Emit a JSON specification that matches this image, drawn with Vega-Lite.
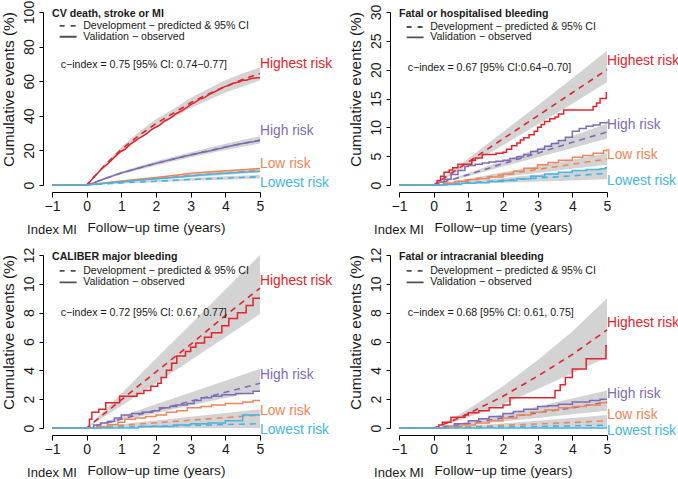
{
"$schema": "https://vega.github.io/schema/vega-lite/v6.json",
"padding": {"left": 0, "top": 0, "right": 0, "bottom": 0},
"background": "white",
"columns": 2,
"bounds": "flush",
"spacing": {"row": 70, "column": 139},
"datasets": {
"band": [
{"p":1,"g":"Highest","x":0,"y":0,"y2":0},{"p":1,"g":"Highest","x":0.5,"y":10,"y2":12},{"p":1,"g":"Highest","x":1,"y":19,"y2":22},{"p":1,"g":"Highest","x":1.5,"y":26.5,"y2":30.5},{"p":1,"g":"Highest","x":2,"y":33,"y2":38},{"p":1,"g":"Highest","x":2.5,"y":39,"y2":44},{"p":1,"g":"Highest","x":3,"y":44.5,"y2":50.5},{"p":1,"g":"Highest","x":3.5,"y":49,"y2":55.5},{"p":1,"g":"Highest","x":4,"y":53.5,"y2":60.5},{"p":1,"g":"Highest","x":4.5,"y":57,"y2":64.5},{"p":1,"g":"Highest","x":5,"y":60.5,"y2":68},
{"p":1,"g":"High","x":0,"y":0,"y2":0},{"p":1,"g":"High","x":1,"y":6.2,"y2":7.8},{"p":1,"g":"High","x":2,"y":11.3,"y2":13.7},{"p":1,"g":"High","x":3,"y":16,"y2":19},{"p":1,"g":"High","x":4,"y":20.2,"y2":23.8},{"p":1,"g":"High","x":5,"y":24,"y2":28.2},
{"p":1,"g":"Low","x":0,"y":0,"y2":0},{"p":1,"g":"Low","x":1,"y":1.5,"y2":2.5},{"p":1,"g":"Low","x":2,"y":3,"y2":4.6},{"p":1,"g":"Low","x":3,"y":4.5,"y2":6.5},{"p":1,"g":"Low","x":4,"y":5.8,"y2":8.2},{"p":1,"g":"Low","x":5,"y":7.2,"y2":9.8},
{"p":1,"g":"Lowest","x":0,"y":0,"y2":0},{"p":1,"g":"Lowest","x":1,"y":0.8,"y2":1.6},{"p":1,"g":"Lowest","x":2,"y":1.6,"y2":2.8},{"p":1,"g":"Lowest","x":3,"y":2.4,"y2":4},{"p":1,"g":"Lowest","x":4,"y":3.1,"y2":5},{"p":1,"g":"Lowest","x":5,"y":3.7,"y2":5.9},
{"p":2,"g":"Highest","x":0,"y":0,"y2":0},{"p":2,"g":"Highest","x":1,"y":3.4,"y2":4.6},{"p":2,"g":"Highest","x":2,"y":6.9,"y2":9.2},{"p":2,"g":"Highest","x":3,"y":10.5,"y2":13.8},{"p":2,"g":"Highest","x":4,"y":14.1,"y2":18.5},{"p":2,"g":"Highest","x":5,"y":17.8,"y2":23.3},
{"p":2,"g":"High","x":0,"y":0,"y2":0},{"p":2,"g":"High","x":1,"y":1.5,"y2":2.1},{"p":2,"g":"High","x":2,"y":3.2,"y2":4.2},{"p":2,"g":"High","x":3,"y":4.8,"y2":6.3},{"p":2,"g":"High","x":4,"y":6.4,"y2":8.5},{"p":2,"g":"High","x":5,"y":8,"y2":10.6},
{"p":2,"g":"Low","x":0,"y":0,"y2":0},{"p":2,"g":"Low","x":1,"y":0.7,"y2":1.1},{"p":2,"g":"Low","x":2,"y":1.4,"y2":2.2},{"p":2,"g":"Low","x":3,"y":2.1,"y2":3.3},{"p":2,"g":"Low","x":4,"y":2.8,"y2":4.4},{"p":2,"g":"Low","x":5,"y":3.5,"y2":5.5},
{"p":2,"g":"Lowest","x":0,"y":0,"y2":0},{"p":2,"g":"Lowest","x":1,"y":0.2,"y2":0.6},{"p":2,"g":"Lowest","x":2,"y":0.4,"y2":1.2},{"p":2,"g":"Lowest","x":3,"y":0.6,"y2":1.8},{"p":2,"g":"Lowest","x":4,"y":0.8,"y2":2.4},{"p":2,"g":"Lowest","x":5,"y":1,"y2":3},
{"p":3,"g":"Highest","x":0,"y":0,"y2":0},{"p":3,"g":"Highest","x":1,"y":1.55,"y2":2.4},{"p":3,"g":"Highest","x":2,"y":3.1,"y2":4.8},{"p":3,"g":"Highest","x":3,"y":4.7,"y2":7.2},{"p":3,"g":"Highest","x":4,"y":6.3,"y2":9.6},{"p":3,"g":"Highest","x":5,"y":7.9,"y2":12},
{"p":3,"g":"High","x":0,"y":0,"y2":0},{"p":3,"g":"High","x":1,"y":0.52,"y2":0.82},{"p":3,"g":"High","x":2,"y":1.04,"y2":1.64},{"p":3,"g":"High","x":3,"y":1.56,"y2":2.46},{"p":3,"g":"High","x":4,"y":2.08,"y2":3.28},{"p":3,"g":"High","x":5,"y":2.6,"y2":4.1},
{"p":3,"g":"Low","x":0,"y":0,"y2":0},{"p":3,"g":"Low","x":1,"y":0.1,"y2":0.26},{"p":3,"g":"Low","x":2,"y":0.2,"y2":0.52},{"p":3,"g":"Low","x":3,"y":0.3,"y2":0.78},{"p":3,"g":"Low","x":4,"y":0.4,"y2":1.04},{"p":3,"g":"Low","x":5,"y":0.5,"y2":1.3},
{"p":3,"g":"Lowest","x":0,"y":0,"y2":0},{"p":3,"g":"Lowest","x":1,"y":0,"y2":0.24},{"p":3,"g":"Lowest","x":2,"y":0,"y2":0.48},{"p":3,"g":"Lowest","x":3,"y":0,"y2":0.72},{"p":3,"g":"Lowest","x":4,"y":0,"y2":0.96},{"p":3,"g":"Lowest","x":5,"y":0,"y2":1.2},
{"p":4,"g":"Highest","x":0,"y":0,"y2":0},{"p":4,"g":"Highest","x":0.5,"y":0.35,"y2":0.6},{"p":4,"g":"Highest","x":1,"y":0.75,"y2":1.3},{"p":4,"g":"Highest","x":2,"y":1.65,"y2":2.9},{"p":4,"g":"Highest","x":3,"y":2.7,"y2":4.7},{"p":4,"g":"Highest","x":4,"y":3.8,"y2":6.7},{"p":4,"g":"Highest","x":5,"y":4.9,"y2":9},
{"p":4,"g":"High","x":0,"y":0,"y2":0},{"p":4,"g":"High","x":1,"y":0.2,"y2":0.45},{"p":4,"g":"High","x":2,"y":0.45,"y2":0.95},{"p":4,"g":"High","x":3,"y":0.7,"y2":1.5},{"p":4,"g":"High","x":4,"y":0.95,"y2":2.05},{"p":4,"g":"High","x":5,"y":1.2,"y2":2.6},
{"p":4,"g":"Low","x":0,"y":0,"y2":0},{"p":4,"g":"Low","x":1,"y":0.03,"y2":0.15},{"p":4,"g":"Low","x":2,"y":0.07,"y2":0.32},{"p":4,"g":"Low","x":3,"y":0.12,"y2":0.5},{"p":4,"g":"Low","x":4,"y":0.16,"y2":0.7},{"p":4,"g":"Low","x":5,"y":0.2,"y2":0.9},
{"p":4,"g":"Lowest","x":0,"y":0,"y2":0},{"p":4,"g":"Lowest","x":1,"y":0,"y2":0.1},{"p":4,"g":"Lowest","x":2,"y":0,"y2":0.2},{"p":4,"g":"Lowest","x":3,"y":0,"y2":0.3},{"p":4,"g":"Lowest","x":4,"y":0,"y2":0.4},{"p":4,"g":"Lowest","x":5,"y":0,"y2":0.5}
],
"pred": [
{"p":1,"g":"Highest","x":-1,"y":0},{"p":1,"g":"Highest","x":0,"y":0},{"p":1,"g":"Highest","x":0.5,"y":11},{"p":1,"g":"Highest","x":1,"y":20.5},{"p":1,"g":"Highest","x":1.5,"y":28.5},{"p":1,"g":"Highest","x":2,"y":35.5},{"p":1,"g":"Highest","x":2.5,"y":41.5},{"p":1,"g":"Highest","x":3,"y":47.5},{"p":1,"g":"Highest","x":3.5,"y":52.5},{"p":1,"g":"Highest","x":4,"y":57},{"p":1,"g":"Highest","x":4.5,"y":61},{"p":1,"g":"Highest","x":5,"y":64.5},
{"p":1,"g":"High","x":-1,"y":0},{"p":1,"g":"High","x":0,"y":0},{"p":1,"g":"High","x":1,"y":7},{"p":1,"g":"High","x":2,"y":12.5},{"p":1,"g":"High","x":3,"y":17.5},{"p":1,"g":"High","x":4,"y":22},{"p":1,"g":"High","x":5,"y":26},
{"p":1,"g":"Low","x":-1,"y":0},{"p":1,"g":"Low","x":0,"y":0},{"p":1,"g":"Low","x":1,"y":2},{"p":1,"g":"Low","x":2,"y":3.8},{"p":1,"g":"Low","x":3,"y":5.5},{"p":1,"g":"Low","x":4,"y":7},{"p":1,"g":"Low","x":5,"y":8.5},
{"p":1,"g":"Lowest","x":-1,"y":0},{"p":1,"g":"Lowest","x":0,"y":0},{"p":1,"g":"Lowest","x":1,"y":1.2},{"p":1,"g":"Lowest","x":2,"y":2.2},{"p":1,"g":"Lowest","x":3,"y":3.2},{"p":1,"g":"Lowest","x":4,"y":4},{"p":1,"g":"Lowest","x":5,"y":4.8},
{"p":2,"g":"Highest","x":-1,"y":0},{"p":2,"g":"Highest","x":0,"y":0},{"p":2,"g":"Highest","x":1,"y":4},{"p":2,"g":"Highest","x":2,"y":8},{"p":2,"g":"Highest","x":3,"y":12},{"p":2,"g":"Highest","x":4,"y":16},{"p":2,"g":"Highest","x":5,"y":20},
{"p":2,"g":"High","x":-1,"y":0},{"p":2,"g":"High","x":0,"y":0},{"p":2,"g":"High","x":1,"y":1.8},{"p":2,"g":"High","x":2,"y":3.7},{"p":2,"g":"High","x":3,"y":5.5},{"p":2,"g":"High","x":4,"y":7.4},{"p":2,"g":"High","x":5,"y":9.2},
{"p":2,"g":"Low","x":-1,"y":0},{"p":2,"g":"Low","x":0,"y":0},{"p":2,"g":"Low","x":1,"y":0.9},{"p":2,"g":"Low","x":2,"y":1.8},{"p":2,"g":"Low","x":3,"y":2.7},{"p":2,"g":"Low","x":4,"y":3.6},{"p":2,"g":"Low","x":5,"y":4.5},
{"p":2,"g":"Lowest","x":-1,"y":0},{"p":2,"g":"Lowest","x":0,"y":0},{"p":2,"g":"Lowest","x":1,"y":0.4},{"p":2,"g":"Lowest","x":2,"y":0.8},{"p":2,"g":"Lowest","x":3,"y":1.2},{"p":2,"g":"Lowest","x":4,"y":1.6},{"p":2,"g":"Lowest","x":5,"y":2},
{"p":3,"g":"Highest","x":-1,"y":0},{"p":3,"g":"Highest","x":0,"y":0},{"p":3,"g":"Highest","x":1,"y":1.95},{"p":3,"g":"Highest","x":2,"y":3.9},{"p":3,"g":"Highest","x":3,"y":5.8},{"p":3,"g":"Highest","x":4,"y":7.8},{"p":3,"g":"Highest","x":5,"y":9.7},
{"p":3,"g":"High","x":-1,"y":0},{"p":3,"g":"High","x":0,"y":0},{"p":3,"g":"High","x":1,"y":0.62},{"p":3,"g":"High","x":2,"y":1.24},{"p":3,"g":"High","x":3,"y":1.86},{"p":3,"g":"High","x":4,"y":2.48},{"p":3,"g":"High","x":5,"y":3.1},
{"p":3,"g":"Low","x":-1,"y":0},{"p":3,"g":"Low","x":0,"y":0},{"p":3,"g":"Low","x":1,"y":0.18},{"p":3,"g":"Low","x":2,"y":0.36},{"p":3,"g":"Low","x":3,"y":0.54},{"p":3,"g":"Low","x":4,"y":0.72},{"p":3,"g":"Low","x":5,"y":0.9},
{"p":3,"g":"Lowest","x":-1,"y":0},{"p":3,"g":"Lowest","x":0,"y":0},{"p":3,"g":"Lowest","x":1,"y":0.06},{"p":3,"g":"Lowest","x":2,"y":0.12},{"p":3,"g":"Lowest","x":3,"y":0.18},{"p":3,"g":"Lowest","x":4,"y":0.24},{"p":3,"g":"Lowest","x":5,"y":0.3},
{"p":4,"g":"Highest","x":-1,"y":0},{"p":4,"g":"Highest","x":0,"y":0},{"p":4,"g":"Highest","x":0.5,"y":0.45},{"p":4,"g":"Highest","x":1,"y":1},{"p":4,"g":"Highest","x":2,"y":2.2},{"p":4,"g":"Highest","x":3,"y":3.6},{"p":4,"g":"Highest","x":4,"y":5.1},{"p":4,"g":"Highest","x":5,"y":6.8},
{"p":4,"g":"High","x":-1,"y":0},{"p":4,"g":"High","x":0,"y":0},{"p":4,"g":"High","x":1,"y":0.3},{"p":4,"g":"High","x":2,"y":0.7},{"p":4,"g":"High","x":3,"y":1.05},{"p":4,"g":"High","x":4,"y":1.4},{"p":4,"g":"High","x":5,"y":1.8},
{"p":4,"g":"Low","x":-1,"y":0},{"p":4,"g":"Low","x":0,"y":0},{"p":4,"g":"Low","x":1,"y":0.08},{"p":4,"g":"Low","x":2,"y":0.18},{"p":4,"g":"Low","x":3,"y":0.28},{"p":4,"g":"Low","x":4,"y":0.38},{"p":4,"g":"Low","x":5,"y":0.5},
{"p":4,"g":"Lowest","x":-1,"y":0},{"p":4,"g":"Lowest","x":0,"y":0},{"p":4,"g":"Lowest","x":1,"y":0.03},{"p":4,"g":"Lowest","x":2,"y":0.07},{"p":4,"g":"Lowest","x":3,"y":0.11},{"p":4,"g":"Lowest","x":4,"y":0.15},{"p":4,"g":"Lowest","x":5,"y":0.2}
],
"obs": [
{"p":1,"g":"Highest","x":-1,"y":0},{"p":1,"g":"Highest","x":0,"y":0},{"p":1,"g":"Highest","x":0.1,"y":2},{"p":1,"g":"Highest","x":0.25,"y":5.5},{"p":1,"g":"Highest","x":0.4,"y":8.5},{"p":1,"g":"Highest","x":0.5,"y":10.5},{"p":1,"g":"Highest","x":0.6,"y":12},{"p":1,"g":"Highest","x":0.75,"y":15},{"p":1,"g":"Highest","x":0.9,"y":18},{"p":1,"g":"Highest","x":1,"y":19.5},{"p":1,"g":"Highest","x":1.1,"y":20.5},{"p":1,"g":"Highest","x":1.25,"y":23.5},{"p":1,"g":"Highest","x":1.4,"y":25.5},{"p":1,"g":"Highest","x":1.5,"y":27},{"p":1,"g":"Highest","x":1.6,"y":28},{"p":1,"g":"Highest","x":1.75,"y":30},{"p":1,"g":"Highest","x":1.9,"y":32.5},{"p":1,"g":"Highest","x":2,"y":33.5},{"p":1,"g":"Highest","x":2.1,"y":34.5},{"p":1,"g":"Highest","x":2.25,"y":37},{"p":1,"g":"Highest","x":2.4,"y":38.5},{"p":1,"g":"Highest","x":2.5,"y":40},{"p":1,"g":"Highest","x":2.6,"y":41.5},{"p":1,"g":"Highest","x":2.75,"y":43},{"p":1,"g":"Highest","x":2.9,"y":45},{"p":1,"g":"Highest","x":3,"y":46.5},{"p":1,"g":"Highest","x":3.1,"y":47.5},{"p":1,"g":"Highest","x":3.25,"y":49.5},{"p":1,"g":"Highest","x":3.4,"y":50.5},{"p":1,"g":"Highest","x":3.5,"y":52},{"p":1,"g":"Highest","x":3.6,"y":53},{"p":1,"g":"Highest","x":3.75,"y":54.5},{"p":1,"g":"Highest","x":3.9,"y":56},{"p":1,"g":"Highest","x":4,"y":57},{"p":1,"g":"Highest","x":4.1,"y":57.5},{"p":1,"g":"Highest","x":4.25,"y":59},{"p":1,"g":"Highest","x":4.4,"y":59.5},{"p":1,"g":"Highest","x":4.5,"y":60.5},{"p":1,"g":"Highest","x":4.6,"y":60.5},{"p":1,"g":"Highest","x":4.75,"y":61.5},{"p":1,"g":"Highest","x":4.9,"y":62},{"p":1,"g":"Highest","x":5,"y":62},
{"p":1,"g":"High","x":-1,"y":0},{"p":1,"g":"High","x":0,"y":0},{"p":1,"g":"High","x":0.25,"y":1.5},{"p":1,"g":"High","x":0.5,"y":3.5},{"p":1,"g":"High","x":0.75,"y":5.3},{"p":1,"g":"High","x":1,"y":7},{"p":1,"g":"High","x":1.25,"y":8.3},{"p":1,"g":"High","x":1.5,"y":9.8},{"p":1,"g":"High","x":1.75,"y":11.2},{"p":1,"g":"High","x":2,"y":12.5},{"p":1,"g":"High","x":2.25,"y":13.8},{"p":1,"g":"High","x":2.5,"y":15},{"p":1,"g":"High","x":2.75,"y":16.2},{"p":1,"g":"High","x":3,"y":17.3},{"p":1,"g":"High","x":3.25,"y":18.5},{"p":1,"g":"High","x":3.5,"y":19.5},{"p":1,"g":"High","x":3.75,"y":20.7},{"p":1,"g":"High","x":4,"y":21.8},{"p":1,"g":"High","x":4.25,"y":23},{"p":1,"g":"High","x":4.5,"y":24},{"p":1,"g":"High","x":4.75,"y":24.8},{"p":1,"g":"High","x":5,"y":25.7},
{"p":1,"g":"Low","x":-1,"y":0},{"p":1,"g":"Low","x":0,"y":0},{"p":1,"g":"Low","x":0.5,"y":1.2},{"p":1,"g":"Low","x":1,"y":2.3},{"p":1,"g":"Low","x":1.5,"y":3.3},{"p":1,"g":"Low","x":2,"y":4.3},{"p":1,"g":"Low","x":2.5,"y":5.5},{"p":1,"g":"Low","x":3,"y":6.8},{"p":1,"g":"Low","x":3.5,"y":7.5},{"p":1,"g":"Low","x":4,"y":8.2},{"p":1,"g":"Low","x":4.5,"y":8.8},{"p":1,"g":"Low","x":5,"y":9.5},
{"p":1,"g":"Lowest","x":-1,"y":0},{"p":1,"g":"Lowest","x":0,"y":0},{"p":1,"g":"Lowest","x":0.5,"y":0.9},{"p":1,"g":"Lowest","x":1,"y":1.8},{"p":1,"g":"Lowest","x":1.5,"y":2.7},{"p":1,"g":"Lowest","x":2,"y":3.5},{"p":1,"g":"Lowest","x":2.5,"y":4.4},{"p":1,"g":"Lowest","x":3,"y":5.2},{"p":1,"g":"Lowest","x":3.5,"y":6},{"p":1,"g":"Lowest","x":4,"y":6.8},{"p":1,"g":"Lowest","x":4.5,"y":7.4},{"p":1,"g":"Lowest","x":5,"y":7.9},
{"p":2,"g":"Highest","x":-1,"y":0},{"p":2,"g":"Highest","x":0,"y":0},{"p":2,"g":"Highest","x":0.1,"y":0.8},{"p":2,"g":"Highest","x":0.2,"y":1.5},{"p":2,"g":"Highest","x":0.3,"y":2.2},{"p":2,"g":"Highest","x":0.45,"y":2.6},{"p":2,"g":"Highest","x":0.55,"y":3},{"p":2,"g":"Highest","x":0.7,"y":3.6},{"p":2,"g":"Highest","x":1.1,"y":4.3},{"p":2,"g":"Highest","x":1.2,"y":4.7},{"p":2,"g":"Highest","x":1.4,"y":5.3},{"p":2,"g":"Highest","x":1.8,"y":5.5},{"p":2,"g":"Highest","x":2,"y":5.7},{"p":2,"g":"Highest","x":2.1,"y":6.2},{"p":2,"g":"Highest","x":2.25,"y":6.8},{"p":2,"g":"Highest","x":2.4,"y":7.3},{"p":2,"g":"Highest","x":2.5,"y":7.8},{"p":2,"g":"Highest","x":2.6,"y":8.2},{"p":2,"g":"Highest","x":2.75,"y":8.7},{"p":2,"g":"Highest","x":2.9,"y":9.3},{"p":2,"g":"Highest","x":3,"y":10},{"p":2,"g":"Highest","x":3.1,"y":10.5},{"p":2,"g":"Highest","x":3.2,"y":11},{"p":2,"g":"Highest","x":3.35,"y":11.5},{"p":2,"g":"Highest","x":3.5,"y":11.8},{"p":2,"g":"Highest","x":3.6,"y":12.3},{"p":2,"g":"Highest","x":3.75,"y":13},{"p":2,"g":"Highest","x":4.6,"y":13.6},{"p":2,"g":"Highest","x":4.7,"y":14.2},{"p":2,"g":"Highest","x":4.8,"y":15},{"p":2,"g":"Highest","x":4.98,"y":16},{"p":2,"g":"Highest","x":5,"y":16},
{"p":2,"g":"High","x":-1,"y":0},{"p":2,"g":"High","x":0,"y":0},{"p":2,"g":"High","x":0.15,"y":0.5},{"p":2,"g":"High","x":0.3,"y":1},{"p":2,"g":"High","x":0.5,"y":1.8},{"p":2,"g":"High","x":0.7,"y":2.5},{"p":2,"g":"High","x":0.9,"y":3.2},{"p":2,"g":"High","x":1,"y":3.4},{"p":2,"g":"High","x":1.2,"y":3.6},{"p":2,"g":"High","x":1.4,"y":3.8},{"p":2,"g":"High","x":1.6,"y":4},{"p":2,"g":"High","x":1.8,"y":4.1},{"p":2,"g":"High","x":2,"y":4.3},{"p":2,"g":"High","x":2.2,"y":4.6},{"p":2,"g":"High","x":2.4,"y":4.9},{"p":2,"g":"High","x":2.6,"y":5.3},{"p":2,"g":"High","x":2.8,"y":5.8},{"p":2,"g":"High","x":3,"y":6.2},{"p":2,"g":"High","x":3.2,"y":6.7},{"p":2,"g":"High","x":3.4,"y":7.2},{"p":2,"g":"High","x":3.6,"y":7.7},{"p":2,"g":"High","x":3.8,"y":8.3},{"p":2,"g":"High","x":4,"y":9.3},{"p":2,"g":"High","x":4.2,"y":9.8},{"p":2,"g":"High","x":4.4,"y":10.2},{"p":2,"g":"High","x":4.6,"y":10.4},{"p":2,"g":"High","x":4.8,"y":10.8},{"p":2,"g":"High","x":5,"y":11},
{"p":2,"g":"Low","x":-1,"y":0},{"p":2,"g":"Low","x":0,"y":0},{"p":2,"g":"Low","x":0.3,"y":0.3},{"p":2,"g":"Low","x":0.6,"y":0.6},{"p":2,"g":"Low","x":1,"y":0.9},{"p":2,"g":"Low","x":1.3,"y":1.1},{"p":2,"g":"Low","x":1.6,"y":1.4},{"p":2,"g":"Low","x":2,"y":1.9},{"p":2,"g":"Low","x":2.3,"y":2.4},{"p":2,"g":"Low","x":2.6,"y":2.9},{"p":2,"g":"Low","x":3,"y":3.5},{"p":2,"g":"Low","x":3.3,"y":3.9},{"p":2,"g":"Low","x":3.6,"y":4.3},{"p":2,"g":"Low","x":4,"y":4.8},{"p":2,"g":"Low","x":4.3,"y":5.1},{"p":2,"g":"Low","x":4.6,"y":5.5},{"p":2,"g":"Low","x":4.9,"y":6},{"p":2,"g":"Low","x":5,"y":6.2},
{"p":2,"g":"Lowest","x":-1,"y":0},{"p":2,"g":"Lowest","x":0,"y":0},{"p":2,"g":"Lowest","x":0.4,"y":0.1},{"p":2,"g":"Lowest","x":0.8,"y":0.3},{"p":2,"g":"Lowest","x":1.2,"y":0.4},{"p":2,"g":"Lowest","x":1.6,"y":0.6},{"p":2,"g":"Lowest","x":2,"y":0.8},{"p":2,"g":"Lowest","x":2.4,"y":1.1},{"p":2,"g":"Lowest","x":2.8,"y":1.5},{"p":2,"g":"Lowest","x":3.2,"y":1.9},{"p":2,"g":"Lowest","x":3.6,"y":2.2},{"p":2,"g":"Lowest","x":4,"y":2.5},{"p":2,"g":"Lowest","x":4.4,"y":2.7},{"p":2,"g":"Lowest","x":4.8,"y":2.8},{"p":2,"g":"Lowest","x":4.95,"y":3},{"p":2,"g":"Lowest","x":5,"y":3},
{"p":3,"g":"Highest","x":-1,"y":0},{"p":3,"g":"Highest","x":0,"y":0},{"p":3,"g":"Highest","x":0.08,"y":0.6},{"p":3,"g":"Highest","x":0.15,"y":1.1},{"p":3,"g":"Highest","x":0.35,"y":1.3},{"p":3,"g":"Highest","x":0.55,"y":1.75},{"p":3,"g":"Highest","x":0.95,"y":2.2},{"p":3,"g":"Highest","x":1.45,"y":2.4},{"p":3,"g":"Highest","x":1.65,"y":2.6},{"p":3,"g":"Highest","x":1.85,"y":2.9},{"p":3,"g":"Highest","x":2.05,"y":3.1},{"p":3,"g":"Highest","x":2.15,"y":3.5},{"p":3,"g":"Highest","x":2.3,"y":4},{"p":3,"g":"Highest","x":2.45,"y":4.5},{"p":3,"g":"Highest","x":2.6,"y":5},{"p":3,"g":"Highest","x":2.85,"y":5.3},{"p":3,"g":"Highest","x":3,"y":5.6},{"p":3,"g":"Highest","x":3.15,"y":5.9},{"p":3,"g":"Highest","x":3.4,"y":6.3},{"p":3,"g":"Highest","x":3.6,"y":6.6},{"p":3,"g":"Highest","x":3.9,"y":7.1},{"p":3,"g":"Highest","x":4.1,"y":7.6},{"p":3,"g":"Highest","x":4.35,"y":8},{"p":3,"g":"Highest","x":4.6,"y":8.5},{"p":3,"g":"Highest","x":4.8,"y":9},{"p":3,"g":"Highest","x":5,"y":9},
{"p":3,"g":"High","x":-1,"y":0},{"p":3,"g":"High","x":0,"y":0},{"p":3,"g":"High","x":0.2,"y":0.2},{"p":3,"g":"High","x":0.4,"y":0.35},{"p":3,"g":"High","x":0.6,"y":0.45},{"p":3,"g":"High","x":0.8,"y":0.7},{"p":3,"g":"High","x":1,"y":0.9},{"p":3,"g":"High","x":1.3,"y":1},{"p":3,"g":"High","x":1.6,"y":1.1},{"p":3,"g":"High","x":1.9,"y":1.2},{"p":3,"g":"High","x":2.1,"y":1.4},{"p":3,"g":"High","x":2.4,"y":1.5},{"p":3,"g":"High","x":2.6,"y":1.6},{"p":3,"g":"High","x":2.9,"y":1.7},{"p":3,"g":"High","x":3.1,"y":1.9},{"p":3,"g":"High","x":3.3,"y":2.1},{"p":3,"g":"High","x":3.6,"y":2.2},{"p":3,"g":"High","x":3.9,"y":2.3},{"p":3,"g":"High","x":4.3,"y":2.4},{"p":3,"g":"High","x":4.8,"y":2.55},{"p":3,"g":"High","x":5,"y":2.55},
{"p":3,"g":"Low","x":-1,"y":0},{"p":3,"g":"Low","x":0,"y":0},{"p":3,"g":"Low","x":0.3,"y":0.1},{"p":3,"g":"Low","x":0.6,"y":0.25},{"p":3,"g":"Low","x":0.9,"y":0.4},{"p":3,"g":"Low","x":1.1,"y":0.6},{"p":3,"g":"Low","x":1.4,"y":0.7},{"p":3,"g":"Low","x":1.7,"y":0.8},{"p":3,"g":"Low","x":2,"y":0.9},{"p":3,"g":"Low","x":2.3,"y":1.1},{"p":3,"g":"Low","x":2.6,"y":1.2},{"p":3,"g":"Low","x":2.9,"y":1.4},{"p":3,"g":"Low","x":3.3,"y":1.5},{"p":3,"g":"Low","x":3.6,"y":1.6},{"p":3,"g":"Low","x":4,"y":1.7},{"p":3,"g":"Low","x":4.5,"y":1.8},{"p":3,"g":"Low","x":4.8,"y":1.9},{"p":3,"g":"Low","x":5,"y":1.9},
{"p":3,"g":"Lowest","x":-1,"y":0},{"p":3,"g":"Lowest","x":0,"y":0},{"p":3,"g":"Lowest","x":1.5,"y":0.1},{"p":3,"g":"Lowest","x":2.5,"y":0.2},{"p":3,"g":"Lowest","x":3,"y":0.3},{"p":3,"g":"Lowest","x":3.5,"y":0.35},{"p":3,"g":"Lowest","x":4,"y":0.5},{"p":3,"g":"Lowest","x":4.5,"y":0.9},{"p":3,"g":"Lowest","x":5,"y":0.9},
{"p":4,"g":"Highest","x":-1,"y":0},{"p":4,"g":"Highest","x":0,"y":0},{"p":4,"g":"Highest","x":0.15,"y":0.2},{"p":4,"g":"Highest","x":0.25,"y":0.4},{"p":4,"g":"Highest","x":0.5,"y":0.75},{"p":4,"g":"Highest","x":0.9,"y":0.9},{"p":4,"g":"Highest","x":1,"y":1.05},{"p":4,"g":"Highest","x":1.3,"y":1.2},{"p":4,"g":"Highest","x":1.6,"y":1.4},{"p":4,"g":"Highest","x":2,"y":1.6},{"p":4,"g":"Highest","x":2.2,"y":2.1},{"p":4,"g":"Highest","x":3.5,"y":2.6},{"p":4,"g":"Highest","x":3.65,"y":3},{"p":4,"g":"Highest","x":3.8,"y":3.5},{"p":4,"g":"Highest","x":4,"y":4.1},{"p":4,"g":"Highest","x":4.4,"y":4.8},{"p":4,"g":"Highest","x":4.97,"y":5.7},{"p":4,"g":"Highest","x":5,"y":5.7},
{"p":4,"g":"High","x":-1,"y":0},{"p":4,"g":"High","x":0,"y":0},{"p":4,"g":"High","x":0.3,"y":0.1},{"p":4,"g":"High","x":0.6,"y":0.3},{"p":4,"g":"High","x":1,"y":0.5},{"p":4,"g":"High","x":1.3,"y":0.65},{"p":4,"g":"High","x":1.6,"y":0.8},{"p":4,"g":"High","x":2,"y":1},{"p":4,"g":"High","x":2.3,"y":1.15},{"p":4,"g":"High","x":2.6,"y":1.3},{"p":4,"g":"High","x":3,"y":1.5},{"p":4,"g":"High","x":3.3,"y":1.55},{"p":4,"g":"High","x":3.6,"y":1.65},{"p":4,"g":"High","x":4,"y":1.8},{"p":4,"g":"High","x":4.5,"y":1.9},{"p":4,"g":"High","x":4.8,"y":2},{"p":4,"g":"High","x":5,"y":2},
{"p":4,"g":"Low","x":-1,"y":0},{"p":4,"g":"Low","x":0,"y":0},{"p":4,"g":"Low","x":0.4,"y":0.1},{"p":4,"g":"Low","x":0.8,"y":0.2},{"p":4,"g":"Low","x":1.2,"y":0.35},{"p":4,"g":"Low","x":1.6,"y":0.5},{"p":4,"g":"Low","x":2,"y":0.7},{"p":4,"g":"Low","x":2.4,"y":0.9},{"p":4,"g":"Low","x":2.8,"y":1.1},{"p":4,"g":"Low","x":3.2,"y":1.25},{"p":4,"g":"Low","x":3.6,"y":1.4},{"p":4,"g":"Low","x":4,"y":1.5},{"p":4,"g":"Low","x":4.4,"y":1.6},{"p":4,"g":"Low","x":4.8,"y":1.75},{"p":4,"g":"Low","x":5,"y":1.75},
{"p":4,"g":"Lowest","x":-1,"y":0},{"p":4,"g":"Lowest","x":0,"y":0},{"p":4,"g":"Lowest","x":5,"y":0}
],
"lab": [
{"p":1,"g":"Highest","x":5,"y":70,"t":"Highest risk"},{"p":1,"g":"High","x":5,"y":31.2,"t":"High risk"},{"p":1,"g":"Low","x":5,"y":12.1,"t":"Low risk"},{"p":1,"g":"Lowest","x":5,"y":1.3,"t":"Lowest risk"},
{"p":2,"g":"Highest","x":5,"y":21.5,"t":"Highest risk"},{"p":2,"g":"High","x":5,"y":10.4,"t":"High risk"},{"p":2,"g":"Low","x":5,"y":5.2,"t":"Low risk"},{"p":2,"g":"Lowest","x":5,"y":0.7,"t":"Lowest risk"},
{"p":3,"g":"Highest","x":5,"y":10.2,"t":"Highest risk"},{"p":3,"g":"High","x":5,"y":3.66,"t":"High risk"},{"p":3,"g":"Low","x":5,"y":1.2,"t":"Low risk"},{"p":3,"g":"Lowest","x":5,"y":-0.14,"t":"Lowest risk"},
{"p":4,"g":"Highest","x":5,"y":7.3,"t":"Highest risk"},{"p":4,"g":"High","x":5,"y":2.35,"t":"High risk"},{"p":4,"g":"Low","x":5,"y":0.9,"t":"Low risk"},{"p":4,"g":"Lowest","x":5,"y":-0.2,"t":"Lowest risk"}
],
"legl": [
{"p":1,"x":-0.78,"x2":-0.29,"y":92,"k":"d"},{"p":1,"x":-0.78,"x2":-0.29,"y":85.7,"k":"s"},
{"p":2,"x":-0.78,"x2":-0.29,"y":27.4,"k":"d"},{"p":2,"x":-0.78,"x2":-0.29,"y":25.6,"k":"s"},
{"p":3,"x":-0.78,"x2":-0.29,"y":10.9,"k":"d"},{"p":3,"x":-0.78,"x2":-0.29,"y":10.1,"k":"s"},
{"p":4,"x":-0.78,"x2":-0.29,"y":10.9,"k":"d"},{"p":4,"x":-0.78,"x2":-0.29,"y":10.1,"k":"s"}
],
"legt": [
{"p":1,"x":-0.1,"y":92,"t":"Development − predicted & 95% CI"},{"p":1,"x":-0.1,"y":85.7,"t":"Validation − observed"},{"p":1,"x":-0.75,"y":69.5,"t":"c−index = 0.75 [95% CI: 0.74−0.77]"},
{"p":2,"x":-0.1,"y":27.4,"t":"Development − predicted & 95% CI"},{"p":2,"x":-0.1,"y":25.6,"t":"Validation − observed"},{"p":2,"x":-0.75,"y":20.3,"t":"c−index = 0.67 [95% CI:0.64−0.70]"},
{"p":3,"x":-0.1,"y":10.9,"t":"Development − predicted & 95% CI"},{"p":3,"x":-0.1,"y":10.1,"t":"Validation − observed"},{"p":3,"x":-0.75,"y":8,"t":"c−index = 0.72 [95% CI: 0.67, 0.77]"},
{"p":4,"x":-0.1,"y":10.9,"t":"Development − predicted & 95% CI"},{"p":4,"x":-0.1,"y":10.1,"t":"Validation − observed"},{"p":4,"x":-0.75,"y":8,"t":"c−index = 0.68 [95% CI: 0.61, 0.75]"}
],
"legh": [
{"p":1,"x":-1,"y":98.8,"t":"CV death, stroke or MI"},
{"p":2,"x":-1,"y":29.6,"t":"Fatal or hospitalised bleeding"},
{"p":3,"x":-1,"y":11.85,"t":"CALIBER major bleeding"},
{"p":4,"x":-1,"y":11.85,"t":"Fatal or intracranial bleeding"}
],
"note": [{"x":-1,"y":0,"t":"Index MI"}]
},
"concat": [
{"width":208,"height":173,
 "encoding":{
  "x":{"field":"x","type":"quantitative","scale":{"domain":[-1,5],"nice":false,"zero":false},"axis":{"values":[-1,0,1,2,3,4,5],"title":"Follow−up time (years)"}},
  "y":{"field":"y","type":"quantitative","stack":null,"scale":{"domain":[0,100],"nice":false},"axis":{"values":[0,20,40,60,80,100],"title":"Cumulative events (%)"}}},
 "layer":[
  {"data":{"name":"band"},"transform":[{"filter":"datum.p==1"}],"mark":{"type":"area","color":"#d3d3d3","opacity":1},"encoding":{"y2":{"field":"y2"},"detail":{"field":"g"}}},
  {"data":{"name":"pred"},"transform":[{"filter":"datum.p==1"}],"mark":{"type":"line","strokeDash":[6,5],"strokeWidth":1.6},"encoding":{"color":{"field":"g","type":"nominal","legend":null}}},
  {"data":{"name":"obs"},"transform":[{"filter":"datum.p==1"}],"mark":{"type":"line","strokeWidth":1.5},"encoding":{"color":{"field":"g","type":"nominal","legend":null}}},
  {"data":{"name":"lab"},"transform":[{"filter":"datum.p==1"}],"mark":{"type":"text","align":"left","baseline":"middle","fontSize":13.8},"encoding":{"text":{"field":"t"},"color":{"field":"g","type":"nominal","legend":null}}},
  {"data":{"name":"legl"},"transform":[{"filter":"datum.p==1"}],"mark":{"type":"rule","color":"#505050","strokeWidth":1.8},"encoding":{"x2":{"field":"x2"},"strokeDash":{"field":"k","type":"nominal","scale":{"domain":["d","s"],"range":[[5,6],[1,0]]},"legend":null}}},
  {"data":{"name":"legt"},"transform":[{"filter":"datum.p==1"}],"mark":{"type":"text","align":"left","baseline":"middle","fontSize":10.6,"color":"#1a1a1a"},"encoding":{"text":{"field":"t"}}},
  {"data":{"name":"legh"},"transform":[{"filter":"datum.p==1"}],"mark":{"type":"text","align":"left","baseline":"middle","fontSize":10.6,"fontWeight":"bold","color":"#1a1a1a"},"encoding":{"text":{"field":"t"}}},
  {"data":{"name":"note"},"mark":{"type":"text","align":"center","baseline":"middle","fontSize":13,"dy":45,"color":"#1a1a1a"},"encoding":{"text":{"field":"t"}}}
 ]},
{"width":208,"height":173,
 "encoding":{
  "x":{"field":"x","type":"quantitative","scale":{"domain":[-1,5],"nice":false,"zero":false},"axis":{"values":[-1,0,1,2,3,4,5],"title":"Follow−up time (years)"}},
  "y":{"field":"y","type":"quantitative","stack":null,"scale":{"domain":[0,30],"nice":false},"axis":{"values":[0,5,10,15,20,25,30],"title":"Cumulative events (%)"}}},
 "layer":[
  {"data":{"name":"band"},"transform":[{"filter":"datum.p==2"}],"mark":{"type":"area","color":"#d3d3d3","opacity":1},"encoding":{"y2":{"field":"y2"},"detail":{"field":"g"}}},
  {"data":{"name":"pred"},"transform":[{"filter":"datum.p==2"}],"mark":{"type":"line","strokeDash":[6,5],"strokeWidth":1.6},"encoding":{"color":{"field":"g","type":"nominal","legend":null}}},
  {"data":{"name":"obs"},"transform":[{"filter":"datum.p==2"}],"mark":{"type":"line","strokeWidth":1.5,"interpolate":"step-after"},"encoding":{"color":{"field":"g","type":"nominal","legend":null}}},
  {"data":{"name":"lab"},"transform":[{"filter":"datum.p==2"}],"mark":{"type":"text","align":"left","baseline":"middle","fontSize":13.8},"encoding":{"text":{"field":"t"},"color":{"field":"g","type":"nominal","legend":null}}},
  {"data":{"name":"legl"},"transform":[{"filter":"datum.p==2"}],"mark":{"type":"rule","color":"#505050","strokeWidth":1.8},"encoding":{"x2":{"field":"x2"},"strokeDash":{"field":"k","type":"nominal","scale":{"domain":["d","s"],"range":[[5,6],[1,0]]},"legend":null}}},
  {"data":{"name":"legt"},"transform":[{"filter":"datum.p==2"}],"mark":{"type":"text","align":"left","baseline":"middle","fontSize":10.6,"color":"#1a1a1a"},"encoding":{"text":{"field":"t"}}},
  {"data":{"name":"legh"},"transform":[{"filter":"datum.p==2"}],"mark":{"type":"text","align":"left","baseline":"middle","fontSize":10.6,"fontWeight":"bold","color":"#1a1a1a"},"encoding":{"text":{"field":"t"}}},
  {"data":{"name":"note"},"mark":{"type":"text","align":"center","baseline":"middle","fontSize":13,"dy":45,"color":"#1a1a1a"},"encoding":{"text":{"field":"t"}}}
 ]},
{"width":208,"height":173,
 "encoding":{
  "x":{"field":"x","type":"quantitative","scale":{"domain":[-1,5],"nice":false,"zero":false},"axis":{"values":[-1,0,1,2,3,4,5],"title":"Follow−up time (years)"}},
  "y":{"field":"y","type":"quantitative","stack":null,"scale":{"domain":[0,12],"nice":false},"axis":{"values":[0,2,4,6,8,10,12],"title":"Cumulative events (%)"}}},
 "layer":[
  {"data":{"name":"band"},"transform":[{"filter":"datum.p==3"}],"mark":{"type":"area","color":"#d3d3d3","opacity":1},"encoding":{"y2":{"field":"y2"},"detail":{"field":"g"}}},
  {"data":{"name":"pred"},"transform":[{"filter":"datum.p==3"}],"mark":{"type":"line","strokeDash":[6,5],"strokeWidth":1.6},"encoding":{"color":{"field":"g","type":"nominal","legend":null}}},
  {"data":{"name":"obs"},"transform":[{"filter":"datum.p==3"}],"mark":{"type":"line","strokeWidth":1.5,"interpolate":"step-after"},"encoding":{"color":{"field":"g","type":"nominal","legend":null}}},
  {"data":{"name":"lab"},"transform":[{"filter":"datum.p==3"}],"mark":{"type":"text","align":"left","baseline":"middle","fontSize":13.8},"encoding":{"text":{"field":"t"},"color":{"field":"g","type":"nominal","legend":null}}},
  {"data":{"name":"legl"},"transform":[{"filter":"datum.p==3"}],"mark":{"type":"rule","color":"#505050","strokeWidth":1.8},"encoding":{"x2":{"field":"x2"},"strokeDash":{"field":"k","type":"nominal","scale":{"domain":["d","s"],"range":[[5,6],[1,0]]},"legend":null}}},
  {"data":{"name":"legt"},"transform":[{"filter":"datum.p==3"}],"mark":{"type":"text","align":"left","baseline":"middle","fontSize":10.6,"color":"#1a1a1a"},"encoding":{"text":{"field":"t"}}},
  {"data":{"name":"legh"},"transform":[{"filter":"datum.p==3"}],"mark":{"type":"text","align":"left","baseline":"middle","fontSize":10.6,"fontWeight":"bold","color":"#1a1a1a"},"encoding":{"text":{"field":"t"}}},
  {"data":{"name":"note"},"mark":{"type":"text","align":"center","baseline":"middle","fontSize":13,"dy":45,"color":"#1a1a1a"},"encoding":{"text":{"field":"t"}}}
 ]},
{"width":208,"height":173,
 "encoding":{
  "x":{"field":"x","type":"quantitative","scale":{"domain":[-1,5],"nice":false,"zero":false},"axis":{"values":[-1,0,1,2,3,4,5],"title":"Follow−up time (years)"}},
  "y":{"field":"y","type":"quantitative","stack":null,"scale":{"domain":[0,12],"nice":false},"axis":{"values":[0,2,4,6,8,10,12],"title":"Cumulative events (%)"}}},
 "layer":[
  {"data":{"name":"band"},"transform":[{"filter":"datum.p==4"}],"mark":{"type":"area","color":"#d3d3d3","opacity":1},"encoding":{"y2":{"field":"y2"},"detail":{"field":"g"}}},
  {"data":{"name":"pred"},"transform":[{"filter":"datum.p==4"}],"mark":{"type":"line","strokeDash":[6,5],"strokeWidth":1.6},"encoding":{"color":{"field":"g","type":"nominal","legend":null}}},
  {"data":{"name":"obs"},"transform":[{"filter":"datum.p==4"}],"mark":{"type":"line","strokeWidth":1.5,"interpolate":"step-after"},"encoding":{"color":{"field":"g","type":"nominal","legend":null}}},
  {"data":{"name":"lab"},"transform":[{"filter":"datum.p==4"}],"mark":{"type":"text","align":"left","baseline":"middle","fontSize":13.8},"encoding":{"text":{"field":"t"},"color":{"field":"g","type":"nominal","legend":null}}},
  {"data":{"name":"legl"},"transform":[{"filter":"datum.p==4"}],"mark":{"type":"rule","color":"#505050","strokeWidth":1.8},"encoding":{"x2":{"field":"x2"},"strokeDash":{"field":"k","type":"nominal","scale":{"domain":["d","s"],"range":[[5,6],[1,0]]},"legend":null}}},
  {"data":{"name":"legt"},"transform":[{"filter":"datum.p==4"}],"mark":{"type":"text","align":"left","baseline":"middle","fontSize":10.6,"color":"#1a1a1a"},"encoding":{"text":{"field":"t"}}},
  {"data":{"name":"legh"},"transform":[{"filter":"datum.p==4"}],"mark":{"type":"text","align":"left","baseline":"middle","fontSize":10.6,"fontWeight":"bold","color":"#1a1a1a"},"encoding":{"text":{"field":"t"}}},
  {"data":{"name":"note"},"mark":{"type":"text","align":"center","baseline":"middle","fontSize":13,"dy":45,"color":"#1a1a1a"},"encoding":{"text":{"field":"t"}}}
 ]}
],
"config": {
 "font": "Liberation Sans",
 "view": {"stroke": null},
 "range": {"category": ["#7f6bb5","#e3242b","#f08559","#45b5e5"]},
 "axis": {"grid": false, "domainColor": "#000000", "tickColor": "#000000", "labelColor": "#1a1a1a", "titleColor": "#1a1a1a", "titleFontWeight": "normal", "labelFontSize": 14, "labelFont": "Liberation Sans", "titleFont": "Liberation Sans", "labelFlush": false, "labelOverlap": false, "domainWidth": 1, "tickWidth": 1},
 "axisX": {"offset": 7, "tickSize": 5, "labelPadding": 2, "titleFontSize": 13.6, "titlePadding": 7, "format": "d"},
 "axisY": {"offset": 9, "tickSize": 4, "labelAngle": -90, "labelAlign": "center", "labelBaseline": "bottom", "labelPadding": 3, "titleFontSize": 15.4, "titlePadding": 6, "titleY": 77}
}
}
